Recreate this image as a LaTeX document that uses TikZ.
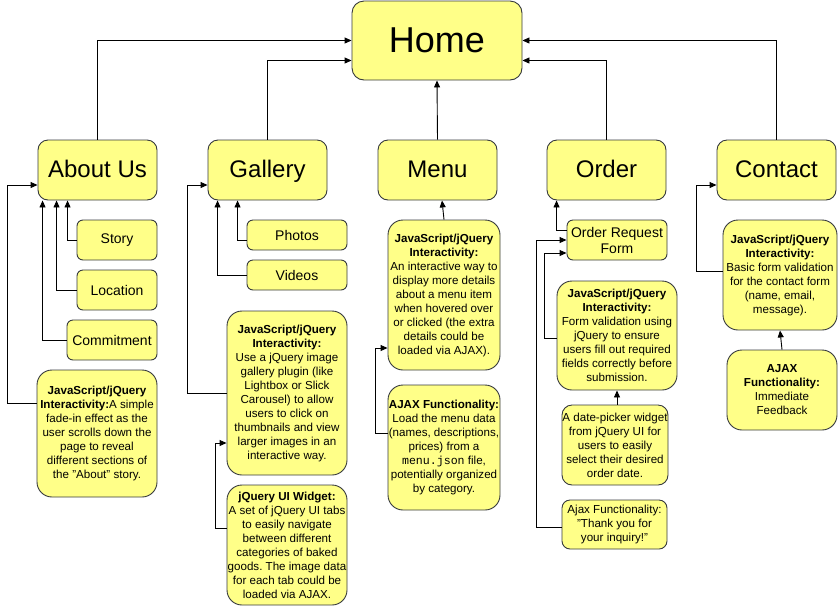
\documentclass[tikz,border=0pt]{standalone}
\usepackage{fontspec}
\setmainfont{Liberation Sans}
\setmonofont{Liberation Mono}
\usetikzlibrary{arrows.meta,calc}
\frenchspacing
\definecolor{boxfill}{HTML}{FFFF88}
\definecolor{boxline}{HTML}{36393D}
\tikzset{
  box/.style={draw=boxline, fill=boxfill, line width=0.9pt, inner sep=0pt, align=center, font=\fontsize{11.6}{14}\selectfont},
  homebox/.style={box, rounded corners=12pt, font=\fontsize{36}{40}\selectfont},
  secbox/.style={box, rounded corners=10pt, font=\fontsize{24}{28}\selectfont, text height=19pt, text depth=5pt},
  subbox/.style={box, rounded corners=6pt, font=\fontsize{14}{17}\selectfont},
  descbox/.style={box, rounded corners=15pt},
  conn/.style={draw=black, line width=0.9pt, -{Triangle[length=7pt,width=6pt]}},
}
\begin{document}
\begin{tikzpicture}[x=1pt,y=-1pt]
\useasboundingbox (0,0) rectangle (838,606);
% top
\node[homebox, minimum width=170pt, minimum height=79pt] (Home) at (437,40.5) {Home};
\node[secbox, minimum width=119pt, minimum height=60pt] (About) at (97.5,170) {About Us};
\node[secbox, minimum width=119pt, minimum height=60pt] (Gallery) at (267.5,170) {Gallery};
\node[secbox, minimum width=119pt, minimum height=60pt] (Menu) at (437.5,170) {Menu};
\node[secbox, minimum width=119pt, minimum height=60pt] (Order) at (606.5,170) {Order};
\node[secbox, minimum width=119pt, minimum height=60pt] (Contact) at (776.5,170) {Contact};
% about
\node[subbox, minimum width=80pt, minimum height=40pt] (Story) at (117,240) {Story};
\node[subbox, minimum width=80pt, minimum height=40pt] (Location) at (117,290) {Location};
\node[subbox, minimum width=90pt, minimum height=40pt] (Commit) at (112,340) {Commitment};
\node[descbox, minimum width=120pt, minimum height=127pt] (AboutJS) at (97,433.5)
  {\textbf{JavaScript/jQuery}\\\textbf{Interactivity:}A simple\\fade-in effect as the\\user scrolls down the\\page to reveal\\different sections of\\the "About" story.};
% gallery
\node[subbox, minimum width=100pt, minimum height=30pt] (Photos) at (297,235) {Photos};
\node[subbox, minimum width=100pt, minimum height=30pt] (Videos) at (297,275) {Videos};
\node[descbox, minimum width=120pt, minimum height=164pt] (GalJS) at (287,393)
  {\textbf{JavaScript/jQuery}\\\textbf{Interactivity:}\\Use a jQuery image\\gallery plugin (like\\Lightbox or Slick\\Carousel) to allow\\users to click on\\thumbnails and view\\larger images in an\\interactive way.};
\node[descbox, minimum width=120pt, minimum height=120pt] (GalUI) at (287,545)
  {\textbf{jQuery UI Widget:}\\A set of jQuery UI tabs\\to easily navigate\\between different\\categories of baked\\goods. The image data\\for each tab could be\\loaded via AJAX.};
% menu
\node[descbox, minimum width=112pt, minimum height=150pt] (MenuJS) at (444,295)
  {\textbf{JavaScript/jQuery}\\\textbf{Interactivity:}\\An interactive way to\\display more details\\about a menu item\\when hovered over\\or clicked (the extra\\details could be\\loaded via AJAX).};
\node[descbox, minimum width=112pt, minimum height=125pt] (MenuAJAX) at (444,447.5)
  {\textbf{AJAX Functionality:}\\Load the menu data\\(names, descriptions,\\prices) from a\\\texttt{menu.json} file,\\potentially organized\\by category.};
% order
\node[subbox, minimum width=100pt, minimum height=40pt, font=\fontsize{14}{16}\selectfont] (ORF) at (617,240) {Order Request\\Form};
\node[descbox, minimum width=120pt, minimum height=109pt] (OrderJS) at (617,335.5)
  {\textbf{JavaScript/jQuery}\\\textbf{Interactivity:}\\Form validation using\\jQuery to ensure\\users fill out required\\fields correctly before\\submission.};
\node[box, rounded corners=10pt, minimum width=106pt, minimum height=80pt] (Date) at (615,445)
  {A date-picker widget\\from jQuery UI for\\users to easily\\select their desired\\order date.};
\node[box, rounded corners=8pt, minimum width=105pt, minimum height=49pt] (AjaxOrder) at (614.5,524.5)
  {Ajax Functionality:\\"Thank you for\\your inquiry!"};
% contact
\node[descbox, minimum width=114pt, minimum height=110pt] (ContactJS) at (780,275)
  {\textbf{JavaScript/jQuery}\\\textbf{Interactivity:}\\Basic form validation\\for the contact form\\(name, email,\\message).};
\node[descbox, minimum width=110pt, minimum height=80pt] (ContactAJAX) at (782,390)
  {\textbf{AJAX}\\\textbf{Functionality:}\\Immediate\\Feedback};
% connectors to home
\draw[conn] (About.north) |- (Home.west);
\draw[conn] (Gallery.north) |- ($(Home.west)+(0,20)$);
\draw[conn] (Menu.north) -- (Home.south);
\draw[conn] (Order.north) |- ($(Home.east)+(0,20)$);
\draw[conn] (Contact.north) |- (Home.east);
% about
\draw[conn] (Story.west) -| ($(About.south west)+(30,0)$);
\draw[conn] (Location.west) -| ($(About.south west)+(19,0)$);
\draw[conn] (Commit.west) -| ($(About.south west)+(5,0)$);
\draw[conn] ($(AboutJS.west)+(0,-30.5)$) -- ++(-29,0) |- ($(About.west)+(0,15)$);
% gallery
\draw[conn] ($(Photos.west)+(0,5)$) -| ($(Gallery.south west)+(30,0)$);
\draw[conn] (Videos.west) -| ($(Gallery.south west)+(10,0)$);
\draw[conn] (GalJS.west) -- ++(-39,0) |- ($(Gallery.west)+(0,15)$);
\draw[conn] ($(GalUI.west)+(0,-17)$) -- ++(-11,0) |- ($(GalJS.west)+(0,50)$);
% menu
\draw[conn] (MenuJS.north) -- ($(Menu.south)+(4.5,0)$);
\draw[conn] ($(MenuAJAX.west)+(0,-14.5)$) -- ++(-12,0) |- ($(MenuJS.west)+(0,53)$);
% order
\draw[conn] ($(ORF.west)+(0,-10)$) -| ($(Order.south west)+(10,0)$);
\draw[conn] ($(OrderJS.west)+(0,2.5)$) -- ++(-12,0) |- ($(ORF.west)+(0,13)$);
\draw[conn] (OrderJS.south |- Date.north) -- (OrderJS.south);
\draw[conn] ($(AjaxOrder.west)+(0,2.5)$) -- ++(-25,0) |- (ORF.west);
% contact
\draw[conn] ($(ContactJS.west)+(0,-4)$) -- ++(-26,0) |- ($(Contact.west)+(0,15)$);
\draw[conn] (ContactAJAX.north) -- (ContactJS.south);
\end{tikzpicture}
\end{document}
